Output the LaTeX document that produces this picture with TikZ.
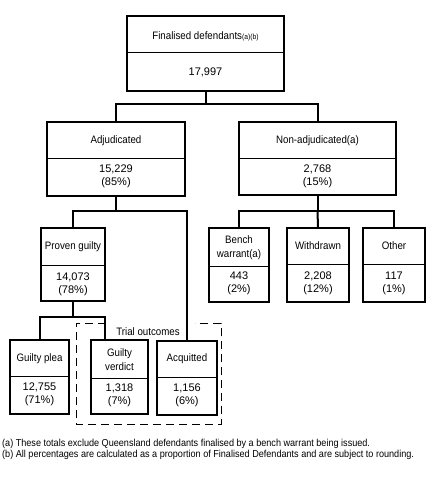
\documentclass[tikz,border=0pt]{standalone}
\usepackage{fontspec}
\usetikzlibrary{calc}
\setmainfont{Liberation Sans}[FakeStretch=0.9]
\newfontfamily\numfont{Liberation Sans}
\begin{document}
\begin{tikzpicture}[x=1pt,y=-1pt,
  box/.style={draw, line width=2pt, rectangle, inner sep=0pt},
  divline/.style={line width=0.9pt},
  conn/.style={line width=2pt},
  lbl/.style={font=\fontsize{10.8}{14}\selectfont, align=center, inner sep=0pt},
  num/.style={font=\numfont\fontsize{11}{13}\selectfont, align=center, inner sep=0pt},
  note/.style={font=\fontsize{10.1}{12}\selectfont, anchor=west, inner sep=0pt},
  frame/.style={line width=0.9pt, dash pattern=on 8pt off 5pt}]
\fill[white] (0,0) rectangle (434,480);
\useasboundingbox (0,0) rectangle (434,480);

\newcommand{\statbox}[6]{%
  \node[box, minimum width=#4pt, minimum height=#5pt] (#1) at (#2,#3) {};
  \draw[divline] (#1.west |- 0,#6) -- (#1.east |- 0,#6);
}

% boxes
\statbox{top}{205.5}{53.5}{157}{75}{52}
\statbox{adj}{116}{159}{138}{74}{158}
\statbox{non}{317.5}{158.5}{157}{73}{158}
\statbox{pg}{73}{264.5}{64}{73}{265}
\statbox{bench}{239}{265}{60}{74}{266}
\statbox{wd}{318}{265}{62}{74}{264}
\statbox{other}{394}{265}{62}{74}{264}
\statbox{gp}{39.5}{377}{59}{74}{376}
\statbox{gv}{119.5}{377}{57}{74}{378}
\statbox{acq}{187}{378}{60}{74}{377}

% labels
\node[lbl] (top-l) at (205.5,36) {Finalised defendants{\fontsize{7.5}{8}\selectfont(a)(b)}};
\node[num] (top-n) at (205.5,72) {17,997};
\node[lbl] (adj-l) at (116,141) {Adjudicated};
\node[num] (adj-n) at (116,176.5) {15,229\\(85\%)};
\node[lbl] (non-l) at (317.5,141) {Non-adjudicated(a)};
\node[num] (non-n) at (317.5,176.5) {2,768\\(15\%)};
\node[lbl] (pg-l) at (73,247) {Proven guilty};
\node[num] (pg-n) at (73,284) {14,073\\(78\%)};
\node[lbl] (bench-l) at (239,247.5) {Bench\\warrant(a)};
\node[num] (bench-n) at (239,283) {443\\(2\%)};
\node[lbl] (wd-l) at (318,246) {Withdrawn};
\node[num] (wd-n) at (318,283) {2,208\\(12\%)};
\node[lbl] (other-l) at (394,246) {Other};
\node[num] (other-n) at (394,283) {117\\(1\%)};
\node[lbl] (gp-l) at (39.5,359) {Guilty plea};
\node[num] (gp-n) at (39.5,394.5) {12,755\\(71\%)};
\node[lbl] (gv-l) at (119.5,360) {Guilty\\verdict};
\node[num] (gv-n) at (119.5,395.5) {1,318\\(7\%)};
\node[lbl] (acq-l) at (187,359) {Acquitted};
\node[num] (acq-n) at (187,395.5) {1,156\\(6\%)};

% trial outcomes frame
\node[lbl] (trial) at (148,332) {Trial outcomes};
\coordinate (fa) at (106,323);
\coordinate (fb) at (76,323);
\coordinate (fc) at (76,424);
\coordinate (fd) at (221,424);
\coordinate (fe) at (221,323);
\coordinate (ff) at (195,323);
\draw[frame] (fa) -- (fb) -- (fc) -- (fd) -- (fe) -- (ff);

% connectors
\coordinate (j1) at (205.5,104);
\coordinate (j2) at (116,211);
\coordinate (j3) at (317.5,211);
\coordinate (j4) at (73,317);
\coordinate (gvin) at ($(gv.north west)!0.25!(gv.north east)$);
\draw[conn] (top.south) -- (j1);
\draw[conn] (adj.north) |- (j1) -| (non.north);
\draw[conn] (adj.south) -- (j2);
\draw[conn] (pg.north) |- (j2) -| (acq.north);
\draw[conn] (non.south) -- (j3);
\draw[conn] (bench.north) |- (j3) -| (other.north);
\draw[conn] (j3) -- (wd.north);
\draw[conn] (pg.south) -- (j4);
\draw[conn] (gp.north) |- (j4) -| (gvin);

% notes
\node[note] (n1) at (2,443.5) {(a) These totals exclude Queensland defendants finalised by a bench warrant being issued.};
\node[note] (n2) at (2,455) {(b) All percentages are calculated as a proportion of Finalised Defendants and are subject to rounding.};
\end{tikzpicture}
\end{document}
